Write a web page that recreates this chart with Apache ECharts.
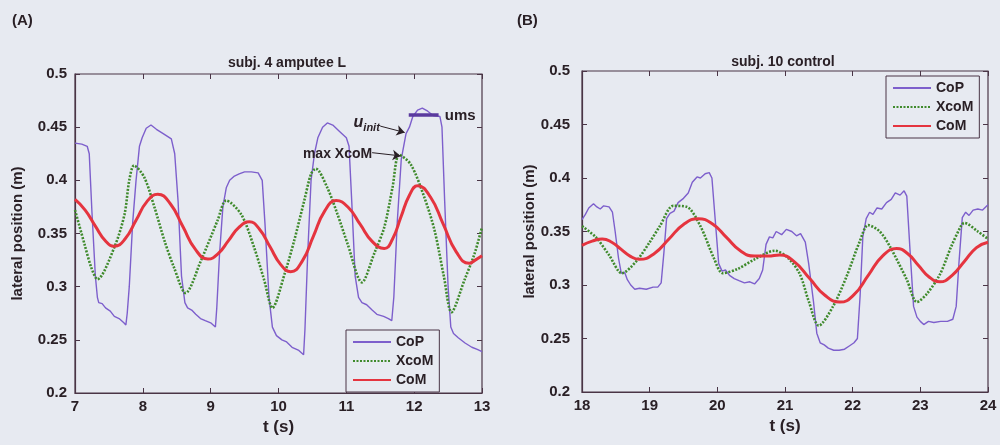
<!DOCTYPE html>
<html><head><meta charset="utf-8">
<script src="https://cdn.jsdelivr.net/npm/echarts@6/dist/echarts.min.js"></script>
<style>html,body{margin:0;padding:0;background:#e7eaf1}#c{width:1000px;height:445px}</style>
</head><body><div id="c"></div>
<script>
// ---------- data (t in s, lateral position in m) ----------
const copA = [[7.00,0.435],[7.10,0.434],[7.18,0.432],[7.21,0.425],[7.25,0.37],[7.30,0.31],[7.33,0.29],[7.35,0.285],[7.40,0.284],[7.45,0.280],[7.52,0.277],[7.58,0.272],[7.65,0.270],[7.72,0.266],[7.75,0.264],[7.77,0.275],[7.80,0.30],[7.85,0.36],[7.90,0.40],[7.95,0.432],[7.99,0.440],[8.05,0.449],[8.12,0.452],[8.20,0.448],[8.30,0.444],[8.42,0.439],[8.47,0.425],[8.52,0.38],[8.57,0.31],[8.62,0.285],[8.66,0.280],[8.72,0.278],[8.78,0.274],[8.85,0.270],[8.92,0.268],[9.00,0.266],[9.07,0.262],[9.09,0.280],[9.13,0.33],[9.18,0.375],[9.23,0.393],[9.28,0.400],[9.35,0.404],[9.42,0.406],[9.50,0.408],[9.60,0.408],[9.70,0.407],[9.76,0.400],[9.80,0.36],[9.86,0.29],[9.91,0.262],[9.97,0.254],[10.05,0.250],[10.12,0.248],[10.20,0.243],[10.30,0.240],[10.37,0.236],[10.39,0.26],[10.43,0.33],[10.48,0.40],[10.53,0.425],[10.58,0.440],[10.65,0.450],[10.72,0.454],[10.80,0.452],[10.90,0.446],[11.00,0.440],[11.04,0.432],[11.08,0.38],[11.13,0.31],[11.18,0.29],[11.23,0.285],[11.30,0.283],[11.38,0.278],[11.45,0.274],[11.55,0.272],[11.62,0.270],[11.67,0.268],[11.70,0.290],[11.75,0.36],[11.81,0.42],[11.88,0.444],[11.93,0.450],[11.98,0.460],[12.05,0.466],[12.12,0.468],[12.20,0.465],[12.28,0.461],[12.38,0.460],[12.41,0.45],[12.45,0.38],[12.50,0.30],[12.54,0.262],[12.58,0.256],[12.65,0.252],[12.75,0.247],[12.85,0.243],[12.93,0.241],[13.00,0.239]];
const xcomA = [[7.00,0.372],[7.14,0.340],[7.24,0.318],[7.33,0.307],[7.58,0.337],[7.73,0.368],[7.80,0.400],[7.87,0.414],[8.02,0.403],[8.17,0.375],[8.32,0.343],[8.46,0.318],[8.63,0.294],[8.86,0.325],[9.10,0.362],[9.23,0.381],[9.45,0.368],[9.64,0.337],[9.79,0.306],[9.91,0.280],[10.09,0.312],[10.23,0.343],[10.38,0.381],[10.48,0.406],[10.55,0.411],[10.72,0.393],[10.87,0.368],[11.02,0.340],[11.23,0.304],[11.41,0.331],[11.56,0.356],[11.68,0.393],[11.78,0.424],[11.95,0.415],[12.15,0.384],[12.30,0.353],[12.44,0.309],[12.55,0.276],[12.74,0.306],[12.89,0.331],[13.00,0.356]];
const comA = [[7.00,0.382],[7.15,0.372],[7.30,0.357],[7.45,0.343],[7.58,0.338],[7.74,0.345],[7.90,0.3625],[8.06,0.380],[8.22,0.387],[8.405,0.378],[8.59,0.3565],[8.775,0.335],[8.96,0.326],[9.11,0.331],[9.265,0.3435],[9.42,0.356],[9.57,0.361],[9.72,0.354],[9.875,0.3375],[10.03,0.321],[10.18,0.314],[10.35,0.324],[10.515,0.3475],[10.68,0.371],[10.85,0.381],[11.03,0.3744],[11.205,0.3585],[11.38,0.3426],[11.56,0.336],[11.68,0.3446],[11.805,0.3655],[11.93,0.386],[12.05,0.395],[12.24,0.3843],[12.43,0.3585],[12.62,0.3327],[12.81,0.322],[12.90,0.325],[13.00,0.329]];

const copB = [[18.00,0.361],[18.05,0.366],[18.10,0.372],[18.17,0.376],[18.22,0.373],[18.27,0.371],[18.32,0.374],[18.40,0.373],[18.45,0.368],[18.49,0.350],[18.54,0.325],[18.58,0.311],[18.63,0.312],[18.67,0.305],[18.72,0.300],[18.78,0.296],[18.85,0.297],[18.95,0.296],[19.05,0.298],[19.12,0.298],[19.17,0.302],[19.21,0.330],[19.25,0.362],[19.30,0.367],[19.36,0.369],[19.42,0.377],[19.50,0.381],[19.57,0.386],[19.63,0.396],[19.70,0.401],[19.75,0.400],[19.82,0.404],[19.88,0.405],[19.92,0.400],[19.97,0.360],[20.02,0.320],[20.07,0.313],[20.12,0.314],[20.18,0.309],[20.25,0.306],[20.32,0.304],[20.40,0.302],[20.48,0.303],[20.55,0.301],[20.62,0.306],[20.67,0.314],[20.72,0.338],[20.77,0.345],[20.82,0.344],[20.87,0.350],[20.95,0.347],[21.02,0.352],[21.10,0.350],[21.17,0.346],[21.23,0.348],[21.30,0.340],[21.35,0.320],[21.42,0.285],[21.47,0.255],[21.52,0.246],[21.58,0.244],[21.64,0.241],[21.72,0.239],[21.80,0.239],[21.88,0.240],[21.95,0.243],[22.02,0.246],[22.07,0.250],[22.11,0.290],[22.15,0.345],[22.20,0.362],[22.25,0.368],[22.30,0.366],[22.36,0.372],[22.43,0.371],[22.50,0.377],[22.57,0.380],[22.63,0.386],[22.70,0.384],[22.76,0.388],[22.80,0.383],[22.85,0.330],[22.90,0.280],[22.95,0.270],[23.00,0.266],[23.05,0.263],[23.12,0.266],[23.20,0.265],[23.30,0.266],[23.40,0.266],[23.48,0.268],[23.53,0.280],[23.57,0.320],[23.62,0.363],[23.67,0.368],[23.72,0.365],[23.78,0.370],[23.85,0.371],[23.92,0.370],[24.00,0.375]];
const xcomB = [[18.00,0.355],[18.20,0.345],[18.40,0.328],[18.59,0.311],[18.80,0.322],[19.00,0.340],[19.15,0.355],[19.35,0.374],[19.55,0.373],[19.75,0.355],[19.95,0.325],[20.08,0.311],[20.30,0.315],[20.55,0.324],[20.85,0.332],[21.05,0.325],[21.22,0.310],[21.35,0.285],[21.50,0.262],[21.71,0.280],[21.91,0.308],[22.10,0.340],[22.23,0.356],[22.40,0.350],[22.55,0.336],[22.80,0.305],[22.95,0.284],[23.10,0.292],[23.29,0.310],[23.45,0.335],[23.60,0.355],[23.65,0.358],[23.85,0.350],[24.00,0.343]];
const comB = [[18.00,0.337],[18.15,0.341],[18.30,0.343],[18.44,0.340],[18.575,0.3335],[18.71,0.327],[18.85,0.324],[19.07,0.3295],[19.285,0.343],[19.50,0.3565],[19.72,0.362],[19.93,0.357],[20.135,0.3445],[20.34,0.332],[20.55,0.327],[20.75,0.327],[20.92,0.328],[21.14,0.3216],[21.365,0.306],[21.59,0.2904],[21.81,0.284],[22.02,0.291],[22.23,0.309],[22.44,0.327],[22.65,0.334],[22.81,0.3295],[22.97,0.3185],[23.13,0.3075],[23.29,0.303],[23.47,0.309],[23.65,0.322],[23.83,0.335],[24.00,0.340]];

const umsSeg = [[11.92,0.462],[12.36,0.462]];
const arrowUinit = [[11.50,0.451],[11.86,0.445]];
const arrowMaxX = [[11.38,0.426],[11.80,0.423]];

const ticksX_A = [7, 13, 1];
const ticksX_B = [18, 24, 1];
const ticksY = [0.2, 0.5, 0.05];

// ---------- styling ----------
const BG = '#e7eaf1', AX = '#4a3546', TXT = '#2a2026';
const FONT = 'Liberation Sans, Arial, sans-serif';
const C_COP = '#7d5fcc', C_X = '#3f8a2c', C_COM = '#e5343f';

function xAx(grid, r, pos, show) {
  return {type:'value', gridIndex:grid, min:r[0], max:r[1], interval:r[2], position:pos,
    axisLine:{show:show, lineStyle:{color:AX, width:1.2}},
    axisTick:{inside:true, length:5, lineStyle:{color:AX}},
    axisLabel:{show:show, margin:6, color:TXT, fontSize:15, fontWeight:'bold', fontFamily:FONT},
    splitLine:{show:false},
    name: show ? 't (s)' : '', nameLocation:'middle', nameGap:26,
    nameTextStyle:{color:TXT, fontSize:17, fontWeight:'bold', fontFamily:FONT}};
}
function yAx(grid, pos, show, margin, gap) {
  return {type:'value', gridIndex:grid, min:ticksY[0], max:ticksY[1], interval:ticksY[2], position:pos,
    axisLine:{show:show, lineStyle:{color:AX, width:1.2}},
    axisTick:{inside:true, length:5, lineStyle:{color:AX}},
    axisLabel:{show:show, margin:margin, color:TXT, fontSize:15, fontWeight:'bold', fontFamily:FONT},
    splitLine:{show:false},
    name: show ? 'lateral position (m)' : '', nameLocation:'middle', nameGap:gap,
    nameTextStyle:{color:TXT, fontSize:15, fontWeight:'bold', fontFamily:FONT}};
}
function lines(gi, cop, xc, com) {
  return [
    {name:'CoP', type:'line', xAxisIndex:gi, yAxisIndex:gi, data:cop, symbol:'none', z:2,
      lineStyle:{color:C_COP, width:1.4}, itemStyle:{color:C_COP}},
    {name:'XcoM', type:'line', xAxisIndex:gi, yAxisIndex:gi, data:xc, symbol:'none', smooth:0.3, z:3,
      lineStyle:{color:C_X, width:2.6, type:[2,1.5]}, itemStyle:{color:C_X}},
    {name:'CoM', type:'line', xAxisIndex:gi, yAxisIndex:gi, data:com, symbol:'none', smooth:0.5, z:4,
      lineStyle:{color:C_COM, width:3}, itemStyle:{color:C_COM}}
  ];
}
function legend(left, top) {
  return {orient:'vertical', left:left, top:top, itemWidth:38, itemHeight:14, itemGap:5,
    padding:[5,6,5,6], backgroundColor:BG, borderColor:AX, borderWidth:1, borderRadius:0,
    data:['CoP','XcoM','CoM'], selectedMode:false,
    itemStyle:{opacity:0},
    textStyle:{color:TXT, fontSize:14, fontWeight:'bold', fontFamily:FONT}};
}
const annFont = {color:TXT, fontWeight:'bold', fontFamily:FONT};

const option = {
  backgroundColor: BG,
  animation: false,
  title: [
    {text:'(A)', left:7, top:8, textStyle:{fontSize:15, fontWeight:'bold', color:TXT, fontFamily:FONT}},
    {text:'(B)', left:512, top:8, textStyle:{fontSize:15, fontWeight:'bold', color:TXT, fontFamily:FONT}},
    {text:'subj. 4 amputee L', left:282, top:51, textAlign:'center', textStyle:{fontSize:14, fontWeight:'bold', color:TXT, fontFamily:FONT}},
    {text:'subj. 10 control', left:778, top:50, textAlign:'center', textStyle:{fontSize:14, fontWeight:'bold', color:TXT, fontFamily:FONT}}
  ],
  grid: [
    {left:75, top:74, width:407, height:319, show:true, borderColor:AX, borderWidth:1.2, backgroundColor:'transparent', outerBoundsMode:'none'},
    {left:582, top:71, width:406, height:321, show:true, borderColor:AX, borderWidth:1.2, backgroundColor:'transparent', outerBoundsMode:'none'}
  ],
  xAxis: [xAx(0, ticksX_A, 'bottom', true), xAx(1, ticksX_B, 'bottom', true),
          xAx(0, ticksX_A, 'top', false), xAx(1, ticksX_B, 'top', false)],
  yAxis: [yAx(0, 'left', true, 8, 50), yAx(1, 'left', true, 12, 45),
          yAx(0, 'right', false, 8, 0), yAx(1, 'right', false, 8, 0)],
  legend: [legend(346, 330), legend(886, 76)],
  series: [
    ...lines(0, copA, xcomA, comA),
    ...lines(1, copB, xcomB, comB),
    {name:'annot', type:'line', xAxisIndex:0, yAxisIndex:0, data:[], z:6,
      markLine:{silent:true, animation:false, symbol:['none','arrow'], symbolSize:8,
        label:{show:false}, lineStyle:{color:'#2a2026', width:1, type:'solid'},
        data:[
          [{coord:arrowUinit[0]},{coord:arrowUinit[1]}],
          [{coord:arrowMaxX[0]},{coord:arrowMaxX[1]}],
          [{coord:umsSeg[0], symbol:'none', lineStyle:{color:'#5a3a9e', width:3.5}},{coord:umsSeg[1], symbol:'none'}]
        ]},
      markPoint:{silent:true, symbol:'circle', symbolSize:0, animation:false,
        label:{show:true, position:'inside', ...annFont},
        data:[
          {coord:[11.30,0.452], label:{formatter:'{u|u}{s|init}', rich:{
            u:{fontSize:16, fontStyle:'italic', fontWeight:'bold', color:TXT, fontFamily:FONT, padding:[0,0,4,0]},
            s:{fontSize:11, fontStyle:'italic', fontWeight:'bold', color:TXT, fontFamily:FONT, padding:[6,0,0,0]}}}},
          {coord:[10.87,0.425], label:{formatter:'max XcoM', fontSize:14}},
          {coord:[12.68,0.461], label:{formatter:'ums', fontSize:15}}
        ]}
    }
  ]
};
const chart = echarts.init(document.getElementById('c'), null, {renderer:'canvas'});
chart.setOption(option);
</script></body></html>
